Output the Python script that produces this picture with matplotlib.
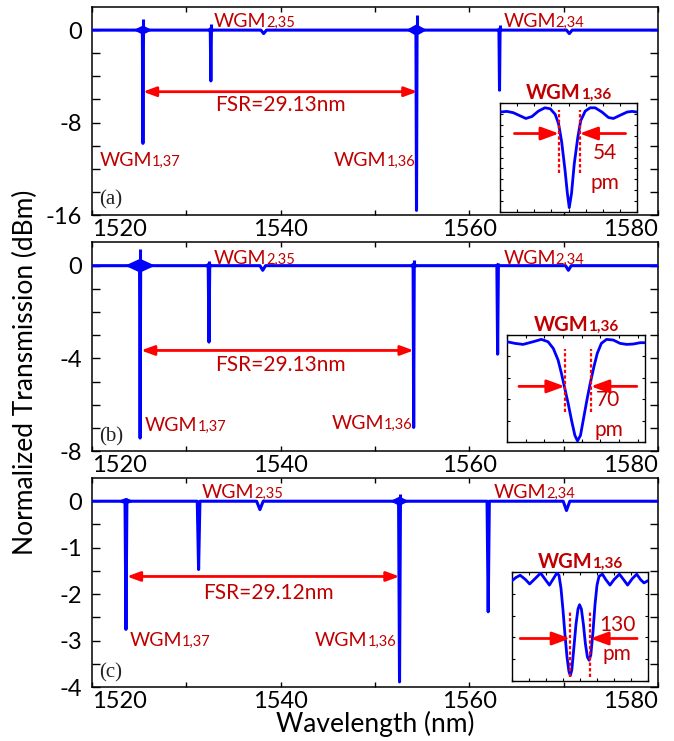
import matplotlib
matplotlib.use('Agg')
import matplotlib.pyplot as plt
from matplotlib.offsetbox import TextArea, HPacker, AnnotationBbox
from matplotlib.ticker import MultipleLocator

plt.rcParams['font.family'] = ['Lato', 'DejaVu Sans']
plt.rcParams['axes.unicode_minus'] = False

BLUE = '#0000FF'
TXT = '#C00000'
RED = '#FF0000'

# ---------------- data ----------------
xlim = (1520, 1580)
xticks = [1520, 1530, 1540, 1550, 1560, 1570, 1580]
xtick_labels = ['1520', '', '1540', '', '1560', '', '1580']

# panel (a)
a_ylim = (-16, 2)
a_yticks = [0, -2, -4, -6, -8, -10, -12, -14, -16]
a_ylabels = ['0', '', '', '', '-8', '', '', '', '-16']
a_dip_wl = [1525.4, 1532.6, 1538.2, 1554.4, 1563.2, 1570.6]
a_dip_depth = [-9.8, -4.4, -0.3, -15.6, -5.2, -0.3]
a_dip_hw = [0.06, 0.06, 0.3, 0.06, 0.06, 0.3]
a_burst_wl = [1525.4, 1532.6, 1554.4, 1563.2]
a_burst_up = [1.0, 0.5, 1.3, 0.45]
a_burst_hw = [1.0, 0.45, 1.1, 0.45]
a_burst_t = [0.4, 0.3, 0.5, 0.25]

# panel (b)
b_ylim = (-8, 1)
b_yticks = [0, -1, -2, -3, -4, -5, -6, -7, -8]
b_ylabels = ['0', '', '', '', '-4', '', '', '', '-8']
b_dip_wl = [1525.1, 1532.4, 1538.1, 1554.1, 1563.0, 1570.5]
b_dip_depth = [-7.44, -3.3, -0.2, -6.98, -3.82, -0.2]
b_dip_hw = [0.06, 0.08, 0.3, 0.06, 0.08, 0.3]
b_burst_wl = [1525.1, 1532.4, 1554.1, 1563.0]
b_burst_up = [0.72, 0.2, 0.25, 0.12]
b_burst_hw = [1.6, 0.5, 0.5, 0.4]
b_burst_t = [0.3, 0.15, 0.15, 0.12]

# panel (c)
c_ylim = (-4, 0.5)
c_yticks = [0, -0.5, -1, -1.5, -2, -2.5, -3, -3.5, -4]
c_ylabels = ['0', '', '-1', '', '-2', '', '-3', '', '-4']
c_dip_wl = [1523.6, 1531.3, 1537.8, 1552.6, 1562.0, 1570.3]
c_dip_depth = [-2.76, -1.47, -0.18, -3.89, -2.38, -0.2]
c_dip_hw = [0.1, 0.14, 0.35, 0.1, 0.12, 0.35]
c_burst_wl = [1523.6, 1552.6]
c_burst_up = [0.08, 0.15]
c_burst_hw = [0.9, 1.0]
c_burst_t = [0.07, 0.1]

# annotations (main panels)
a_lab = dict(w235=(1532.9, 0.0), w234=(1563.6, 0.0), w137=(1520.8, -12.0), w136=(1545.65, -12.0),
             fsr=(1525.4, 1554.5, -5.33), fsrtxt=(1540.0, -6.5), tag=(1520.75, -14.7))
b_lab = dict(w235=(1532.9, -0.05), w234=(1563.6, -0.05), w137=(1525.6, -7.25), w136=(1545.4, -7.18),
             fsr=(1525.2, 1554.1, -3.66), fsrtxt=(1540.0, -4.3), tag=(1520.75, -7.41))
c_lab = dict(w235=(1531.6, 0.0), w234=(1562.6, 0.0), w137=(1524.0, -3.18), w136=(1543.65, -3.18),
             fsr=(1523.7, 1552.6, -1.62), fsrtxt=(1538.7, -1.98), tag=(1520.75, -3.70))
fsr_text = ['FSR=29.13nm', 'FSR=29.13nm', 'FSR=29.12nm']
tags = ['(a)', '(b)', '(c)']

# insets: x in pm, y normalised transmission
ia_x = [0, 18, 35, 53, 68, 84, 101, 118, 132, 145, 154, 162, 171, 177, 182, 188, 195, 204, 212,
        224, 237, 250, 268, 285, 298, 316, 334, 347, 360]
ia_y = [0.917, 0.923, 0.911, 0.882, 0.858, 0.876, 0.926, 0.956, 0.947, 0.896, 0.808, 0.645, 0.379,
        0.172, 0.04, 0.172, 0.438, 0.675, 0.837, 0.926, 0.956, 0.956, 0.917, 0.867, 0.858, 0.888,
        0.917, 0.923, 0.917]
ib_x = [0, 21, 43, 70, 92, 110, 124, 137, 146, 155, 164, 173, 182, 189, 197, 206, 215, 224, 233,
        242, 253, 267, 285, 303, 321, 339, 357, 370]
ib_y = [0.937, 0.922, 0.912, 0.937, 0.959, 0.937, 0.875, 0.766, 0.64, 0.5, 0.36, 0.203, 0.062, 0.01,
        0.062, 0.234, 0.406, 0.562, 0.703, 0.828, 0.922, 0.959, 0.953, 0.922, 0.912, 0.916, 0.928, 0.928]
ic_x = [0, 26, 53, 88, 114, 150, 185, 216, 242, 264, 290, 304, 317, 330, 343, 356, 368, 377, 387,
        400, 414, 427, 437, 449, 462, 475, 488, 499, 510, 524, 537, 550, 563, 585, 607, 634, 660,
        695, 722, 748, 779, 807, 832, 854, 880]
ic_y = [0.92, 0.95, 0.97, 0.93, 0.89, 0.94, 0.99, 0.93, 0.88, 0.93, 0.99, 0.97, 0.85, 0.65, 0.42,
        0.22, 0.09, 0.05, 0.10, 0.30, 0.52, 0.66, 0.70, 0.66, 0.52, 0.34, 0.22, 0.19, 0.24, 0.45,
        0.70, 0.88, 0.96, 0.98, 0.93, 0.88, 0.93, 0.98, 0.93, 0.88, 0.94, 0.98, 0.93, 0.90, 0.92]
inset_width = [360, 370, 880]
inset_dash = [(155, 209, 0.355, 0.94), (155, 225, 0.28, 0.87), (376, 506, 0.04, 0.63)]
inset_arrow = [(38, 330, 0.72), (32, 348, 0.52), (53, 810, 0.39)]
inset_num = [('54', 276, 0.54), ('70', 272, 0.39), ('130', 682, 0.51)]
inset_pm = [(276, 0.27), (274, 0.11), (680, 0.245)]
inset_tick = [(45, 0.1), (50, 0.2), (110, 0.2)]

# ---------------- layout ----------------
W, H = 674, 741
fig = plt.figure(figsize=(W / 100, H / 100), dpi=100)

def fr(l, r, t, b):
    return [l / W, 1 - b / H, (r - l) / W, (b - t) / H]

main_rects = [fr(92, 658, 7, 215), fr(92, 658, 242.5, 451), fr(92, 658, 478, 687)]
inset_rects = [fr(500, 637, 103, 212), fr(507, 645, 335, 442), fr(512, 648, 572, 681)]


def wgm(ax, xy, sub, size=14, subsize=10.5, weight='normal', align=(0, 0), coords='data'):
    t1 = TextArea('WGM', textprops=dict(size=size, color=TXT, weight=weight))
    t2 = TextArea(sub, textprops=dict(size=subsize, color=TXT, weight=weight))
    box = HPacker(children=[t1, t2], align='baseline', pad=0, sep=0)
    ab = AnnotationBbox(box, xy, xycoords=coords, box_alignment=align, frameon=False, pad=0,
                        annotation_clip=False, zorder=5)
    ax.add_artist(ab)


panels = [
    (a_ylim, a_yticks, a_ylabels, a_dip_wl, a_dip_depth, a_dip_hw, a_burst_wl, a_burst_up, a_burst_hw, a_burst_t, a_lab),
    (b_ylim, b_yticks, b_ylabels, b_dip_wl, b_dip_depth, b_dip_hw, b_burst_wl, b_burst_up, b_burst_hw, b_burst_t, b_lab),
    (c_ylim, c_yticks, c_ylabels, c_dip_wl, c_dip_depth, c_dip_hw, c_burst_wl, c_burst_up, c_burst_hw, c_burst_t, c_lab),
]
insets = [(ia_x, ia_y), (ib_x, ib_y), (ic_x, ic_y)]

for i, (ylim, yt, ytl, dwl, dd, dhw, bwl, bup, bhw, bt, lab) in enumerate(panels):
    ax = fig.add_axes(main_rects[i])
    # trace
    xs, ys = [xlim[0]], [0.0]
    for c, d, w in sorted(zip(dwl, dd, dhw)):
        xs += [c - w, c, c + w]
        ys += [0.0, d, 0.0]
    xs.append(xlim[1]); ys.append(0.0)
    ax.plot(xs, ys, color=BLUE, lw=2.2, solid_joinstyle='round', zorder=3)
    for c, u, w, t in zip(bwl, bup, bhw, bt):
        ax.fill([c - w, c, c + w, c], [0, t, 0, -t], color=BLUE, lw=0, zorder=3)
        ax.vlines(c, 0, u, color=BLUE, lw=2.2, zorder=3)
    ax.set_xlim(*xlim)
    ax.set_ylim(*ylim)
    ax.set_xticks(xticks, xtick_labels)
    ax.set_yticks(yt, ytl)
    ax.tick_params(axis='both', direction='in', top=True, right=True, labelsize=17)
    ax.tick_params(axis='y', length=6, width=1, pad=7)
    ax.tick_params(axis='x', length=3.5, width=1, pad=3)
    labs = ax.get_xticklabels()
    labs[0].set_horizontalalignment('left')
    labs[-1].set_horizontalalignment('right')
    for s in ax.spines.values():
        s.set_linewidth(1.1)
    # labels
    wgm(ax, lab['w235'], '2,35')
    wgm(ax, lab['w234'], '2,34')
    wgm(ax, lab['w137'], '1,37')
    wgm(ax, lab['w136'], '1,36')
    x0, x1, yy = lab['fsr']
    ax.annotate('', xy=(x1, yy), xytext=(x0, yy),
                arrowprops=dict(arrowstyle='<|-|>,head_length=0.6,head_width=0.22', color=RED,
                                lw=2, mutation_scale=13, shrinkA=0, shrinkB=0), zorder=4)
    ax.text(lab['fsrtxt'][0], lab['fsrtxt'][1], fsr_text[i], color=TXT, fontsize=15,
            ha='center', va='center', zorder=5)
    ax.text(lab['tag'][0], lab['tag'][1], tags[i], family=['Liberation Serif'], fontsize=15,
            ha='left', va='center', color='#222222')

    # inset
    ix, iy = insets[i]
    ins = fig.add_axes(inset_rects[i])
    ins.plot(ix, iy, color=BLUE, lw=2, zorder=3)
    ins.set_xlim(0, inset_width[i])
    ins.set_ylim(0, 1)
    d0, d1, dy0, dy1 = inset_dash[i]
    ins.vlines([d0, d1], dy0, dy1, colors=RED, lw=1.6, linestyles=(0, (1.5, 1.0)), zorder=4)
    a0, a1, ay = inset_arrow[i]
    for xa, xb in ((a0, d0), (a1, d1)):
        ins.annotate('', xy=(xb, ay), xytext=(xa, ay),
                     arrowprops=dict(arrowstyle='-|>,head_length=0.6,head_width=0.22', color=RED,
                                     lw=2, mutation_scale=18, shrinkA=0, shrinkB=0), zorder=4)
    num, nx, ny = inset_num[i]
    ins.text(nx, ny, num, color=TXT, fontsize=15, ha='center', va='center')
    ins.text(inset_pm[i][0], inset_pm[i][1], 'pm', color=TXT, fontsize=15, ha='center', va='center')
    ins.xaxis.set_major_locator(MultipleLocator(inset_tick[i][0]))
    ins.yaxis.set_major_locator(MultipleLocator(inset_tick[i][1]))
    ins.tick_params(direction='in', length=2.5, width=0.8, top=True, right=True,
                    labelbottom=False, labelleft=False)
    for s in ins.spines.values():
        s.set_linewidth(1.0)
    wgm(ins, (0.5, 1.0), '1,36', size=14.5, subsize=11, weight='bold', align=(0.5, 0.0),
        coords='axes fraction')

fig.text(25 / W, 1 - 372 / H, 'Normalized Transmission (dBm)', rotation=90, fontsize=19,
         ha='center', va='center')
fig.text(375 / W, 1 - 724 / H, 'Wavelength (nm)', fontsize=19, ha='center', va='center')

fig.savefig('out.png', dpi=100)
